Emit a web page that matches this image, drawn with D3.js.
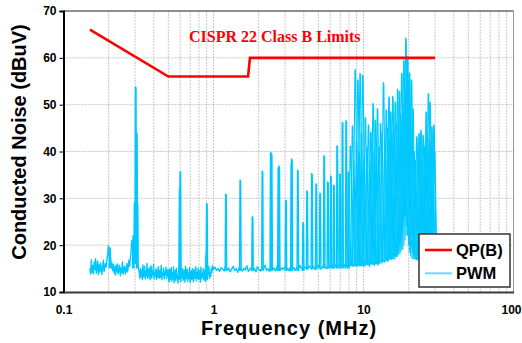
<!DOCTYPE html>
<html><head><meta charset="utf-8">
<script src="https://cdn.jsdelivr.net/npm/d3@7"></script>
<style>
html,body{margin:0;padding:0;background:#fff;}
svg{display:block;}
</style></head>
<body><svg id="c" width="522" height="343"></svg>
<script>
// ---------- DATA ----------
const xTicks = [0.1, 1, 10, 100];
const xTickLabels = ["0.1", "1", "10", "100"];
const yTicks = [10, 20, 30, 40, 50, 60, 70];
const gridMult = [1, 2, 3, 4, 5, 6, 7, 8, 9];
const gridDecades = [0.1, 1, 10];

// CISPR 22 Class B quasi-peak limit (MHz, dBuV)
const limitFreq = [0.15, 0.5, 1.7, 1.75, 30];
const limitVals = [66, 56, 56, 60, 60];

// PWM noise floor, read in segments (start MHz, end MHz, values)
const floorSegStart = [0.15, 0.32, 0.5, 1.0, 10];
const floorSegEnd   = [0.285, 0.5, 1.0, 10, 30];
const floorA = [15.1,13.8,16.9,14.2,15.6,13.9,16.4,14.8,17.1,14.0,15.3,16.6,13.7,15.8,14.3,16.2,14.9,13.8,15.5,16.8,14.4,15.0,16.1,15.4,16.9,17.8,19.9,18.1,16.7,17.4,15.2,16.3,14.6,15.9,14.1,15.4,13.6,15.8,14.3,16.0,13.9,14.8,15.7,13.5,15.1,14.2,16.4,13.8,14.9,15.5,13.9,14.6,16.1,14.3,15.2,16.8,15.5,17.2,18.4,21.0];
const floorB = [14.2,12.9,15.1,13.4,14.6,12.7,15.8,13.2,14.0,15.5,12.8,14.4,13.5,16.1,12.9,14.8,13.3,15.2,12.6,14.1,15.6,13.0,14.5,13.7,15.9,12.8,14.2,13.4,15.0,12.7,14.6,13.1,15.4,13.8,12.9,14.7,13.2,15.7,12.6,14.0,13.5,15.1,12.8,14.3,13.6,15.3,12.9,13.9,14.8,13.4];
const floorC = [13.6,12.1,14.9,12.6,13.8,15.2,12.3,14.1,12.8,15.4,12.0,13.7,14.6,12.4,15.1,12.9,13.5,11.9,14.8,12.7,13.9,15.3,12.2,14.3,13.1,15.0,12.5,13.6,14.7,12.1,15.5,12.8,13.4,14.9,12.3,14.0,12.9,15.2,12.0,13.8,14.5,12.6,15.0,13.3,12.2,14.8,12.9,13.7,15.4,12.4,14.2,13.0,15.1,12.7,13.5,14.6,12.1,15.3,12.8,14.0,13.2,15.0,12.5,13.9,14.7,12.3,15.2,13.1,12.6,14.4,13.8,15.5,12.9,14.1,13.3,15.0,14.2,15.6,14.8,15.2];
const floorD = [14.8,15.3,14.6,15.0,14.4,15.2,14.9,14.5,15.4,14.7,15.1,14.3,14.9,15.5,14.6,15.0,14.2,15.3,14.8,14.5,15.1,14.7,15.6,14.4,14.9,15.2,14.6,15.0,14.3,15.4,14.8,14.5,15.2,14.9,15.7,14.6,15.0,14.4,15.3,14.8,15.1,14.5,15.5,14.9,14.6,15.2,14.8,15.4,14.7,15.0,14.5,15.6,14.9,15.2,14.6,15.3,14.9,15.7,15.0,14.8,15.4,15.1,14.9,15.6,15.2,15.0,15.5,14.8,15.3,15.7,15.1,14.9,15.4,15.8,15.2,15.0,15.6,15.3,15.9,15.1,15.5,15.8,15.2,16.0,15.4,15.7,15.3,16.1,15.6,15.4,15.9,16.2,15.5,15.8,16.0,15.6,16.3,15.9,15.7,16.1];
const floorE = [16.0,15.6,16.4,15.8,16.2,15.5,16.6,15.9,16.3,15.7,16.8,16.1,15.8,16.5,16.9,16.2,17.0,16.4,16.8,17.3,16.6,17.1,17.5,17.0,17.8,18.2,17.6,18.5,19.5,20.8,22.0,23.4,24.8,26.0,27.0,27.5,26.4,24.8,23.0,21.2,19.8,18.6,17.8,17.2,16.9,17.4,16.8,17.1,16.6,17.3,16.9,17.5,17.0,16.7,17.2,17.6,17.1,16.8,17.4,17.0];

// PWM spectral spikes (MHz, peak dBuV, base dBuV)
const spikeFreq = [0.204,0.292,0.298,0.303,0.308,0.311,0.595,0.601,0.895,0.903,1.21,1.51,1.82,2.12,2.41,2.44,2.71,2.74,3.04,3.31,3.33,3.65,3.96,4.21,4.53,4.84,5.14,5.47,5.79,6.06,6.35,6.68,6.96,7.25,7.67,7.94,8.19,8.45,
  8.6,8.81,9.0,9.18,9.35,9.5,9.7,9.9,10.1,10.3,10.55,10.8,11.0,11.2,11.4,11.6,11.8,12.0,12.2,12.4,12.7,13.0,13.3,13.6,13.9,14.2,14.5,14.8,15.0,15.2,15.45,15.7,16.0,16.3,16.6,16.9,17.15,17.4,17.7,18.0,18.3,18.6,18.9,19.2,19.45,19.7,20.0,20.3,20.6,20.9,21.2,21.4,21.8,22.2,22.7,23.1,23.5,23.9,24.2,24.6,25.0,25.5,25.9,26.2,26.6,27.1,27.5,27.8,28.2,28.6,29.0,29.5,29.8];
const spikePeak = [19.5,22,29,53.8,44,29,32,35.7,18,28.9,30.9,33.9,26.1,35.8,39.8,39.5,36.5,36.9,29.6,37.5,38.4,36.0,24.8,31.6,35.3,33.1,31.1,39.1,33.5,34.8,32.8,41.2,35.2,46.2,46.6,35.6,41.2,45.5,
  38,57.5,42,55.3,40,56.7,44,56.3,39,47.3,41,45.7,38,44.2,42,50.3,40,46.7,43,49.2,41,46.0,44,54.7,42,48.9,45,51.7,43,48.5,44,51.8,45,50.6,46,53.3,47,52.8,48,56.7,50,59.5,54,64.2,57,60.2,55,56.8,50,55.3,45,49.2,40,38,43.2,39,43.9,40,44.6,38,43.5,41,42,48.5,44,52.4,43,50.6,42,45.3,41,45.7,40];
const spikeBase = [15,15,16,18,20,15,14,14,14,14,14.5,14.5,14.5,14.5,14.5,14.5,14.5,14.5,14.5,14.5,14.5,14.5,14.5,14.8,14.8,14.8,15,15,15,15,15,15,15,15,15,15,15.5,15.5,
  15.5,15.5,15.5,15.5,15.5,15.5,15.5,15.5,16,16,16,16,16,16,16,16,16,16,16,16,16.5,16.5,16.5,16.5,16.5,17,17,17,17,17,17,17,17.5,17.5,18,18,18.5,19,19,20,21,22,24,26,27,26,24,22,20,18.5,18,17.5,17,17,17,17,17,17,17,17,17,17,17,17,17,17,17,17,17,17,17,17,17];

// ---------- CHART ----------
const svg = d3.select("#c");
const x = d3.scaleLog().domain([0.1, 100]).range([63.5, 513.5]);
const y = d3.scaleLinear().domain([10, 70]).range([292, 11]);
const blue = "#00C8FF";

// grid
const gridX = [];
gridDecades.forEach(d => gridMult.forEach(m => gridX.push(d * m)));
svg.append("g").selectAll("line").data(gridX.filter(v => v > 0.1 && v < 100)).join("line")
  .attr("x1", d => x(d)).attr("x2", d => x(d)).attr("y1", y(70)).attr("y2", y(10))
  .attr("stroke", "#c8c8c8").attr("stroke-width", 1).attr("stroke-dasharray", "2,1");
svg.append("g").selectAll("line").data(yTicks.filter(v => v > 10 && v < 70)).join("line")
  .attr("x1", x(0.1)).attr("x2", x(100)).attr("y1", d => y(d)).attr("y2", d => y(d))
  .attr("stroke", "#c8c8c8").attr("stroke-width", 1).attr("stroke-dasharray", "2,1");

// frame (top/right)
svg.append("line").attr("x1", x(0.1)).attr("x2", x(100)).attr("y1", y(70)).attr("y2", y(70))
  .attr("stroke", "#6a6a6a").attr("stroke-width", 1.5);
svg.append("line").attr("x1", x(100)).attr("x2", x(100)).attr("y1", y(70)).attr("y2", y(10))
  .attr("stroke", "#9a9a9a").attr("stroke-width", 1);

// PWM floor trace
const floorSegs = [floorA, floorB, floorC, floorD, floorE];
const floorPts = [];
floorSegs.forEach((vals, si) => {
  const l0 = Math.log10(floorSegStart[si]), l1 = Math.log10(floorSegEnd[si]);
  vals.forEach((v, i) => {
    const f = Math.pow(10, l0 + (l1 - l0) * i / (vals.length - 1));
    floorPts.push([f, v]);
  });
});
const line = d3.line().x(d => x(d[0])).y(d => y(d[1]));
const plot = svg.append("g");
plot.append("path").datum(floorPts).attr("d", line)
  .attr("fill", "none").attr("stroke", blue).attr("stroke-width", 1.4).attr("stroke-linejoin", "round");

// spikes
const spikes = spikeFreq.map((f, i) => ({f, p: spikePeak[i], b: spikeBase[i]}));
plot.selectAll("path.sp").data(spikes).join("path").attr("class", "sp")
  .attr("d", d => {
    const cx = x(d.f), hw = d.f > 8 ? 2.2 : 0.8;
    return `M${cx - hw},${y(d.b)}L${cx - 0.3},${y(d.p)}L${cx + 0.3},${y(d.p) + 1}L${cx + hw},${y(d.b)}`;
  })
  .attr("fill", "none").attr("stroke", blue).attr("stroke-width", d => d.f > 8 ? 1.1 : 1.4)
  .attr("stroke-linejoin", "round");

// limit line
const limitPts = limitFreq.map((f, i) => [f, limitVals[i]]);
svg.append("path").datum(limitPts).attr("d", line)
  .attr("fill", "none").attr("stroke", "#ff0000").attr("stroke-width", 2.6);

// axes
const yAxis = svg.append("g").attr("transform", `translate(${x(0.1)},0)`)
  .call(d3.axisLeft(y).tickValues(yTicks).tickSize(4).tickPadding(3).tickFormat(d3.format("d")));
yAxis.select(".domain").attr("stroke", "#000").attr("stroke-width", 2);
yAxis.selectAll(".tick line").attr("stroke", "#000");
yAxis.selectAll("text").attr("font-family", "Arial, 'Liberation Sans', sans-serif")
  .attr("font-weight", "bold").attr("font-size", 12).attr("fill", "#000");

const xAxis = svg.append("g").attr("transform", `translate(0,${y(10)})`)
  .call(d3.axisBottom(x).tickValues(xTicks).tickSize(0).tickPadding(13)
    .tickFormat((d, i) => xTickLabels[i]));
xAxis.select(".domain").attr("stroke", "#3a3a3a").attr("stroke-width", 2);
xAxis.selectAll("text").attr("font-family", "Arial, 'Liberation Sans', sans-serif")
  .attr("font-weight", "bold").attr("font-size", 12).attr("fill", "#000");
xAxis.selectAll("text").filter(d => d === 100).attr("text-anchor", "end").attr("dx", 7.5);

// titles
svg.append("text").attr("x", 289).attr("y", 335).attr("text-anchor", "middle")
  .attr("font-family", "Arial, 'Liberation Sans', sans-serif").attr("font-weight", "bold")
  .attr("font-size", 20).attr("letter-spacing", 1).text("Frequency (MHz)");
svg.append("text").attr("transform", "translate(26,142) rotate(-90)").attr("text-anchor", "middle")
  .attr("font-family", "Arial, 'Liberation Sans', sans-serif").attr("font-weight", "bold")
  .attr("font-size", 20).text("Conducted Noise (dBuV)");
svg.append("text").attr("x", 189).attr("y", 42)
  .attr("font-family", "'Times New Roman', 'Liberation Serif', serif").attr("font-weight", "bold")
  .attr("font-size", 16).attr("fill", "#ff0000").text("CISPR 22 Class B Limits");

// legend
const lg = svg.append("g");
lg.append("rect").attr("x", 419).attr("y", 234).attr("width", 91).attr("height", 53)
  .attr("fill", "#fff").attr("stroke", "#333").attr("stroke-width", 1.5);
const legItems = [{name: "QP(B)", color: "#ff0000", w: 2.6}, {name: "PWM", color: "#70D8FA", w: 2}];
legItems.forEach((d, i) => {
  const cy = 250 + i * 23.3;
  lg.append("line").attr("x1", 425).attr("x2", 452).attr("y1", cy).attr("y2", cy)
    .attr("stroke", d.color).attr("stroke-width", d.w);
  lg.append("text").attr("x", 456).attr("y", cy + 6)
    .attr("font-family", "Arial, 'Liberation Sans', sans-serif").attr("font-weight", "bold")
    .attr("font-size", 16.5).text(d.name);
});
</script></body></html>
